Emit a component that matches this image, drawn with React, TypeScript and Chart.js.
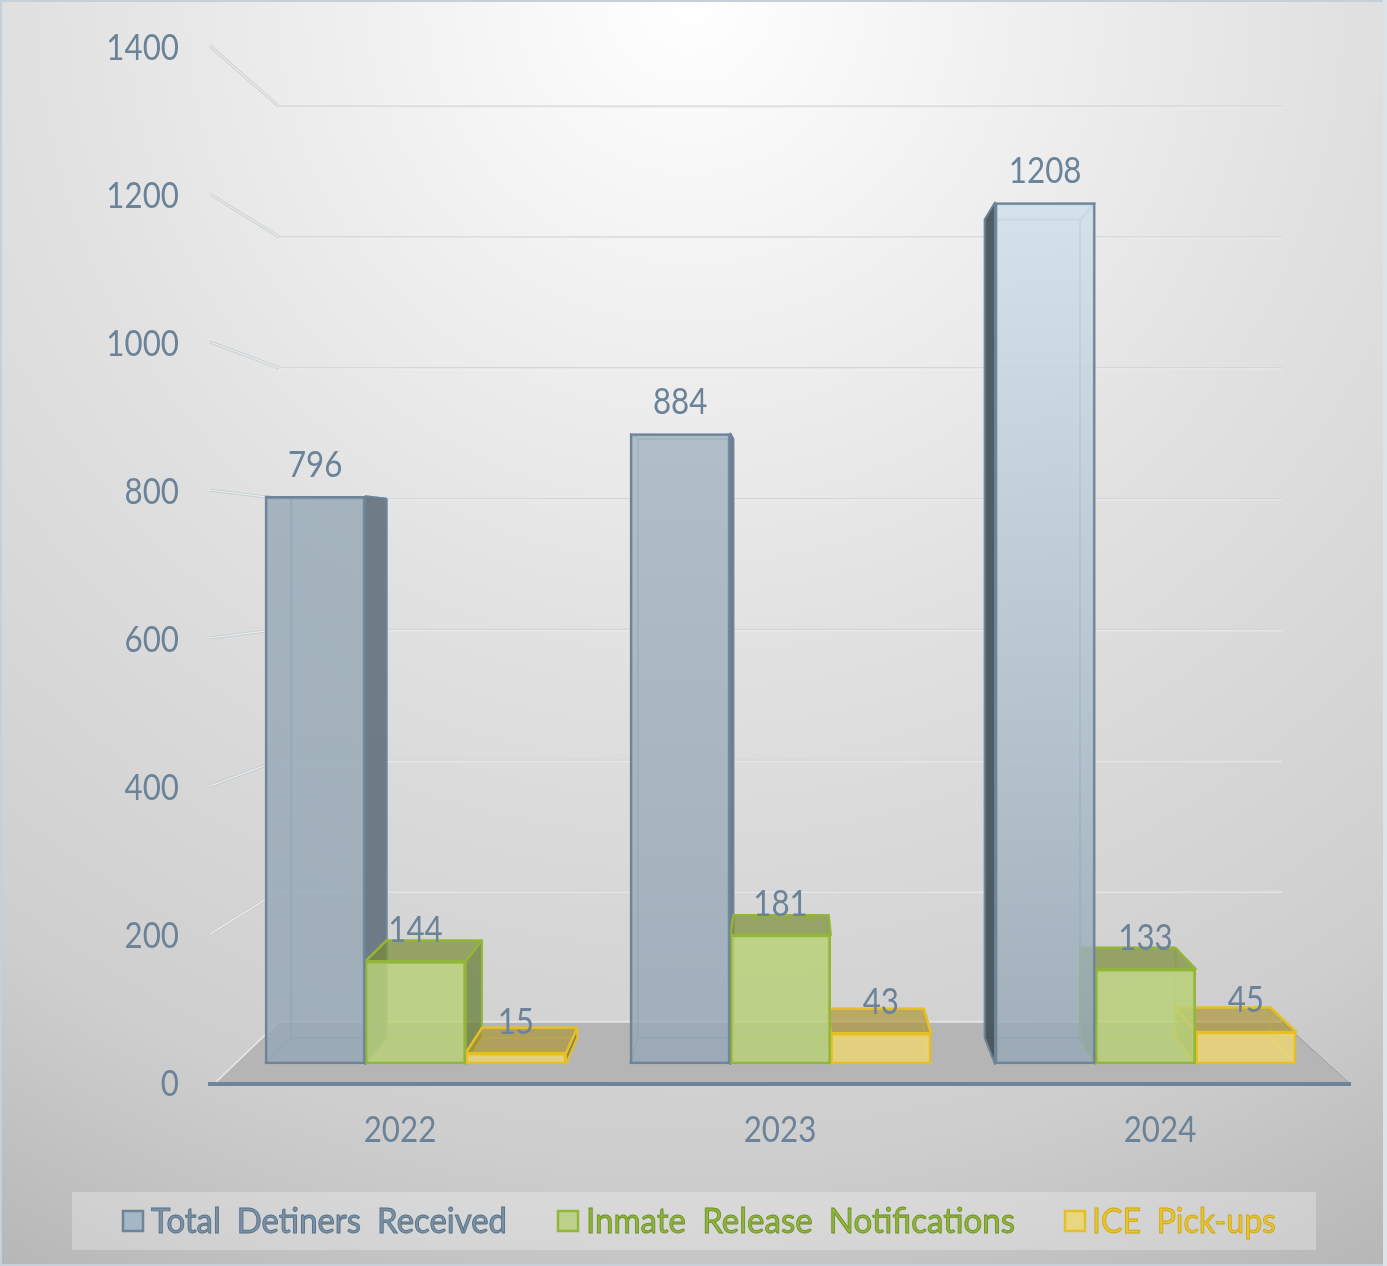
import React, { useEffect, useRef } from "react";
import { Chart, registerables } from "chart.js";

Chart.register(...registerables);

// ---- data ----
const categories = ["2022", "2023", "2024"];
const totalDetainers = [796, 884, 1208];
const releaseNotifications = [144, 181, 133];
const icePickups = [15, 43, 45];
const seriesNames = ["Total Detiners Received", "Inmate Release Notifications", "ICE Pick-ups"];
const yTickStep = 200;
const yMax = 1400;

// ---- style ----
const FONT = "Lato, 'Noto Sans', sans-serif";
const TEXT = "#6b8399";
const SQUEEZE = 0.87;
const blueTops = ["rgba(152,170,183,0.8)", "rgba(165,182,194,0.8)", "rgba(210,226,238,0.8)"];
const blueBottom = "rgba(150,168,182,0.8)";
const styles = [
  { border: "#6d8499", top: "rgba(80,95,110,0.35)", right: "rgba(100,113,124,0.9)", left: "rgba(68,78,86,0.9)", inner: "rgba(150,170,185,0.18)", innerEdge: "rgba(125,148,168,0.65)", swatch: "#a5b6c5" },
  { border: "#93b63a", top: "rgba(112,130,42,0.6)", right: "rgba(99,121,53,0.7)", left: "rgba(99,121,53,0.5)", inner: "rgba(184,209,120,0.2)", innerEdge: "rgba(170,200,90,0.5)", swatch: "#bdd18a" },
  { border: "#e6bf25", top: "rgba(165,142,47,0.6)", right: "rgba(120,112,70,0.75)", left: "rgba(150,135,60,0.5)", inner: "rgba(235,214,116,0.2)", innerEdge: "rgba(235,205,90,0.5)", swatch: "#e8d680" },
];
const legendBox = { left: 72, top: 1192, right: 1316, bottom: 1250 };
const legendItems = [
  { box: 123, text: 151, width: 356, fill: "#7b92a6", stroke: "#557087" },
  { box: 558, text: 586, width: 429, fill: "#8fb53c", stroke: "#6f9127" },
  { box: 1065, text: 1092, width: 184, fill: "#e8c52e", stroke: "#cda818" },
];

// one-point perspective used for all depth planes
const VP = { x: 790, y: 544 };
const K_BACK = 0.95; // back face of the bars
const K_WALL = 0.917; // back wall of the chart
const project = (x: number, y: number, k: number): [number, number] => [VP.x + k * (x - VP.x), VP.y + k * (y - VP.y)];

function poly(ctx: CanvasRenderingContext2D, pts: [number, number][], fill?: any, stroke?: string, lw = 2) {
  ctx.beginPath();
  pts.forEach((p, i) => (i ? ctx.lineTo(p[0], p[1]) : ctx.moveTo(p[0], p[1])));
  ctx.closePath();
  if (fill) {
    ctx.fillStyle = fill;
    ctx.fill();
  }
  if (stroke) {
    ctx.strokeStyle = stroke;
    ctx.lineWidth = lw;
    ctx.lineJoin = "round";
    ctx.stroke();
  }
}

function line(ctx: CanvasRenderingContext2D, a: [number, number], b: [number, number], color: string, lw: number) {
  ctx.beginPath();
  ctx.moveTo(a[0], a[1]);
  ctx.lineTo(b[0], b[1]);
  ctx.strokeStyle = color;
  ctx.lineWidth = lw;
  ctx.stroke();
}

const backdropPlugin = {
  id: "backdrop",
  beforeDraw(chart: any) {
    const { ctx, width, height } = chart;
    ctx.save();
    const g = ctx.createRadialGradient(690, 0, 0, 690, 0, 1450);
    g.addColorStop(0, "#ffffff");
    g.addColorStop(0.45, "#e1e1e1");
    g.addColorStop(0.8, "#cecece");
    g.addColorStop(1, "#b6b6b6");
    ctx.fillStyle = g;
    ctx.fillRect(0, 0, width, height);
    ctx.strokeStyle = "#c6d0d8";
    ctx.lineWidth = 2;
    ctx.strokeRect(1, 1, width - 2, height - 2);
    ctx.fillStyle = "#dde3e7";
    ctx.fillRect(width - 4, 0, 4, height);

    // legend drawn from the dataset labels
    ctx.fillStyle = "rgba(255,255,255,0.28)";
    ctx.fillRect(legendBox.left, legendBox.top, legendBox.right - legendBox.left, legendBox.bottom - legendBox.top);
    const cy = (legendBox.top + legendBox.bottom) / 2;
    ctx.font = `34px ${FONT}`;
    ctx.textAlign = "left";
    ctx.textBaseline = "middle";
    (ctx as any).wordSpacing = "8px";
    chart.data.datasets.forEach((ds: any, i: number) => {
      const it = legendItems[i];
      const s = styles[i];
      ctx.fillStyle = s.swatch;
      ctx.fillRect(it.box, cy - 10, 20, 20);
      ctx.strokeStyle = s.border;
      ctx.lineWidth = 2.5;
      ctx.strokeRect(it.box, cy - 10, 20, 20);
      ctx.fillStyle = it.fill;
      ctx.fillText(ds.label, it.text, cy + 1, it.width);
      ctx.strokeStyle = it.stroke;
      ctx.lineWidth = 0.9;
      ctx.strokeText(ds.label, it.text, cy + 1, it.width);
    });
    (ctx as any).wordSpacing = "0px";
    ctx.restore();
  },
  beforeDatasetsDraw(chart: any) {
    const { ctx, scales } = chart;
    const { y, yb, x } = scales;
    ctx.save();
    const left = x.left;
    const floorY = yb.getPixelForValue(0);
    const wallFloor = project(234, floorY, K_WALL)[1] + 1;
    const wallL = 279;
    const wallR = 1282;

    // floor
    poly(ctx, [[216, 1083], [1348, 1083], [wallR, wallFloor], [wallL, wallFloor]], "#b5b5b5");
    line(ctx, [216, 1082], [wallL, wallFloor], "#e9e9e9", 1.5);
    line(ctx, [wallL, wallFloor], [wallR, wallFloor], "#e4e4e4", 2);
    line(ctx, [wallR, wallFloor], [1348, 1082], "#9a9a9a", 1);

    // gridlines on the wall and the side wall
    y.ticks.forEach((t: any) => {
      if (t.value === 0) return;
      const wy = project(234, yb.getPixelForValue(t.value), K_WALL)[1] + 1;
      const fy = y.getPixelForValue(t.value) - 2;
      line(ctx, [wallL, wy], [wallR, wy], "rgba(208,213,217,0.9)", 1.5);
      line(ctx, [wallL, wy + 1.2], [wallR, wy + 1.2], "rgba(238,240,241,0.55)", 1.5);
      line(ctx, [left, fy], [wallL, wy], "rgba(198,204,208,0.95)", 3);
      line(ctx, [left, fy], [wallL, wy], "rgba(238,240,241,0.9)", 1.2);
    });

    // the hidden faces of each bar, through the library's own bar elements
    chart.data.datasets.forEach((_: any, di: number) => {
      const s = styles[di];
      chart.getDatasetMeta(di).data.forEach((bar: any) => {
        const x0 = bar.x - bar.width / 2;
        const x1 = bar.x + bar.width / 2;
        const y0 = bar.y;
        const y1 = bar.base;
        const [bx0, by0] = project(x0, y0, K_BACK);
        const [bx1, by1] = project(x1, y1, K_BACK);
        const fl: [number, number] = [x0, y0];
        const fr: [number, number] = [x1, y0];
        const bl: [number, number] = [x0, y1];
        const br: [number, number] = [x1, y1];
        const tl: [number, number] = [bx0, by0];
        const tr: [number, number] = [bx1, by0];
        const dl: [number, number] = [bx0, by1];
        const dr: [number, number] = [bx1, by1];

        // inner faces first
        poly(ctx, [tl, tr, dr, dl], s.inner);
        poly(ctx, [bl, br, dr, dl], s.inner);
        const rightOut = bx1 > x1;
        const leftOut = bx0 < x0;
        const topOut = by0 < y0;
        if (!rightOut) poly(ctx, [fr, tr, dr, br], s.inner);
        if (!leftOut) poly(ctx, [fl, tl, dl, bl], s.inner);
        if (!topOut) poly(ctx, [fl, fr, tr, tl], s.inner);
        line(ctx, tl, dl, s.innerEdge, 2);
        line(ctx, tr, dr, s.innerEdge, 2);
        line(ctx, dl, dr, s.innerEdge, 2);
        line(ctx, tl, tr, s.innerEdge, 2);
        line(ctx, bl, dl, s.innerEdge, 2);
        line(ctx, br, dr, s.innerEdge, 2);
        line(ctx, fl, tl, s.innerEdge, 2);
        line(ctx, fr, tr, s.innerEdge, 2);

        // outer faces
        if (rightOut) poly(ctx, [fr, tr, dr, br], s.right, s.border, 2);
        if (leftOut) poly(ctx, [fl, tl, dl, bl], s.left, s.border, 2);
        if (topOut) poly(ctx, [fl, fr, tr, tl], s.top, s.border, 2.5);
      });
    });
    ctx.restore();
  },
  afterDatasetsDraw(chart: any) {
    const { ctx } = chart;
    ctx.save();
    ctx.font = `36px ${FONT}`;
    ctx.fillStyle = TEXT;
    ctx.textAlign = "center";
    ctx.textBaseline = "middle";
    chart.data.datasets.forEach((ds: any, di: number) => {
      chart.getDatasetMeta(di).data.forEach((bar: any, i: number) => {
        ctx.fillText(String(ds.data[i].y), bar.x, bar.y - 31);
      });
    });
    ctx.restore();
  },
};

const toPoints = (vals: number[]) => vals.map((v, i) => ({ x: i, y: v }));

export default function App() {
  const ref = useRef<HTMLCanvasElement | null>(null);
  useEffect(() => {
    const canvas = ref.current!;
    const c2d = canvas.getContext("2d") as any;
    // the reference's text is slightly condensed horizontally
    const rawFill = c2d.fillText.bind(c2d);
    c2d.fillText = (t: string, px: number, py: number, m?: number) =>
      rawFill(t, px, py, m ?? c2d.measureText(t).width * SQUEEZE);

    const blueFill = (c: any) => {
      if (!c.parsed || c.dataIndex === undefined) return blueBottom;
      const yb = c.chart.scales.yb;
      if (!yb) return blueBottom;
      const top = yb.getPixelForValue(c.parsed.y);
      const bottom = yb.getPixelForValue(0);
      if (!Number.isFinite(top) || !Number.isFinite(bottom)) return blueBottom;
      const g = c.chart.ctx.createLinearGradient(0, top, 0, bottom);
      g.addColorStop(0, blueTops[c.dataIndex]);
      g.addColorStop(1, blueBottom);
      return g;
    };

    const bar = { xAxisID: "xb", yAxisID: "yb", barThickness: 100.33, borderSkipped: false as const, borderWidth: 2.5, clip: false as const };
    const chart = new Chart(canvas, {
      type: "bar",
      data: {
        labels: categories,
        datasets: [
          { ...bar, label: seriesNames[0], data: toPoints(totalDetainers) as any, backgroundColor: blueFill, borderColor: styles[0].border },
          { ...bar, label: seriesNames[1], data: toPoints(releaseNotifications) as any, backgroundColor: "rgba(184,209,120,0.8)", borderColor: styles[1].border },
          { ...bar, label: seriesNames[2], data: toPoints(icePickups) as any, backgroundColor: "rgba(235,214,116,0.8)", borderColor: styles[2].border },
        ],
      },
      options: {
        responsive: false,
        animation: false,
        devicePixelRatio: 1,
        layout: { padding: { top: 48, right: 37, left: 0, bottom: 0 } },
        plugins: { legend: { display: false }, tooltip: { enabled: false } },
        scales: {
          x: {
            type: "category",
            offset: true,
            grid: { display: false },
            border: { display: true, color: "#6f8499", width: 4, z: 1 } as any,
            ticks: { color: TEXT, font: { family: FONT, size: 36 }, padding: 17, maxRotation: 0 },
            afterFit: (s: any) => { s.height = 182; },
          },
          y: {
            type: "linear",
            min: 0,
            max: yMax,
            grid: { display: false },
            border: { display: false },
            ticks: { stepSize: yTickStep, color: TEXT, font: { family: FONT, size: 36 }, padding: 23, callback: (v: any) => String(v) },
            afterFit: (s: any) => { s.width = 210; },
          },
          // plane of the bars, in the same drawing area as the front axes
          xb: { type: "linear", axis: "x", display: false, offset: false, min: -0.563, max: 2.5603, position: "bottom" } as any,
          yb: { type: "linear", axis: "y", display: false, min: -28.07, max: 1424.6 } as any,
        },
      },
      plugins: [backdropPlugin as any],
    });
    return () => chart.destroy();
  }, []);
  return (
    <div style={{ position: "fixed", left: 0, top: 0, width: 1387, height: 1266, overflow: "hidden" }}>
      <canvas ref={ref} width={1387} height={1266} style={{ display: "block", width: 1387, height: 1266 }} />
    </div>
  );
}
